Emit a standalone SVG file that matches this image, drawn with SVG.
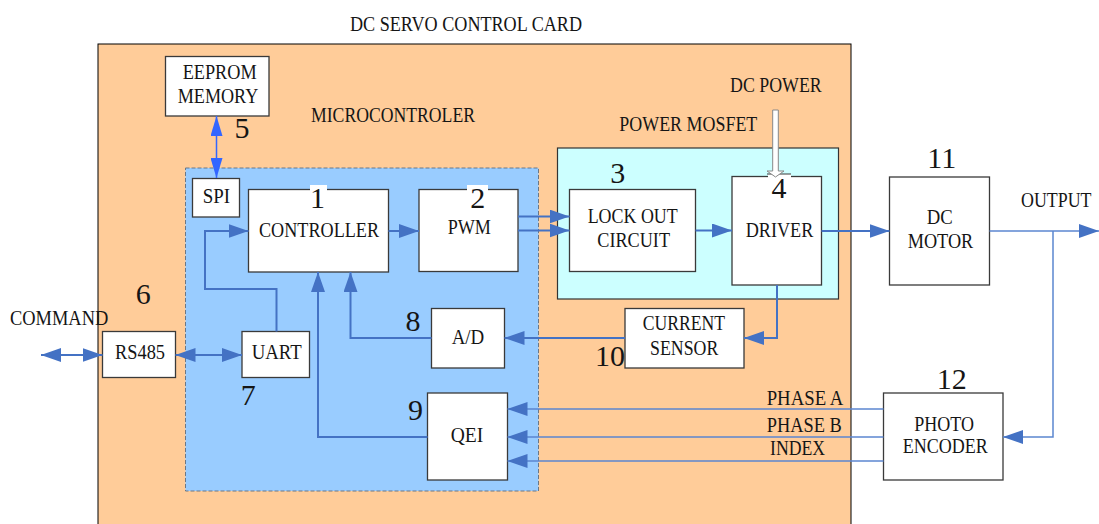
<svg xmlns="http://www.w3.org/2000/svg" width="1099" height="524" viewBox="0 0 1099 524">
<style>
text{font-family:"Liberation Serif","Times New Roman",serif;fill:#151515;}
.lb{font-size:21px;}
.num{font-size:30px;text-anchor:middle;}
.box{fill:#fff;stroke:#3a3a3a;stroke-width:1.3;}
.cn{fill:none;stroke:#4472C4;stroke-width:2;}
.thin{fill:none;stroke:#5B86D0;stroke-width:1.5;}
</style>
<defs>
<marker id="ah" markerUnits="userSpaceOnUse" markerWidth="20" markerHeight="14" viewBox="0 0 20 14" refX="20" refY="7" orient="auto-start-reverse"><path d="M0,0 L20,7 L0,14 z" fill="#4472C4"/></marker>
<marker id="ahb" markerUnits="userSpaceOnUse" markerWidth="20" markerHeight="12" viewBox="0 0 20 12" refX="20" refY="6" orient="auto-start-reverse"><path d="M0,0 L20,6 L0,12 z" fill="#3366FF"/></marker>
</defs>
<rect width="1099" height="524" fill="#fff"/>
<g id="card">
<rect x="98" y="44" width="753" height="490" fill="#FFCC99" stroke="#000" stroke-width="1"/>
<text class="lb" x="350" y="30.5" textLength="232" lengthAdjust="spacingAndGlyphs">DC SERVO CONTROL CARD</text>
</g>
<g id="microcontroller">
<rect x="185.5" y="168" width="353" height="323" fill="#99CCFF" stroke="#6B7785" stroke-width="1" stroke-dasharray="4 2"/>
<text class="lb" x="311" y="122" textLength="164" lengthAdjust="spacingAndGlyphs">MICROCONTROLER</text>
</g>
<g id="power-mosfet">
<rect x="557.5" y="148" width="281" height="151" fill="#CCFFFF" stroke="#333" stroke-width="1.2"/>
<text class="lb" x="619.3" y="130.7" textLength="138" lengthAdjust="spacingAndGlyphs">POWER MOSFET</text>
</g>
<g id="eeprom">
<rect class="box" x="165.5" y="56.5" width="103.5" height="59.5"/>
<text class="lb" x="182.7" y="79.3" textLength="74" lengthAdjust="spacingAndGlyphs">EEPROM</text>
<text class="lb" x="177.7" y="103.3" textLength="80.6" lengthAdjust="spacingAndGlyphs">MEMORY</text>
<text class="num" x="242" y="138">5</text>
</g>
<g id="spi">
<rect class="box" x="192.5" y="178.5" width="47" height="38.5"/>
<text class="lb" x="202.7" y="202.7" textLength="27.3" lengthAdjust="spacingAndGlyphs">SPI</text>
</g>
<g id="controller">
<rect class="box" x="248.5" y="189.5" width="140" height="82.5"/>
<rect x="310" y="185" width="17" height="7" fill="#fff"/>
<text class="lb" x="259" y="237.3" textLength="120" lengthAdjust="spacingAndGlyphs">CONTROLLER</text>
<text class="num" x="317.5" y="208.3">1</text>
</g>
<g id="pwm">
<rect class="box" x="419" y="189.5" width="99" height="82"/>
<rect x="467" y="185" width="21" height="7" fill="#fff"/>
<text class="lb" x="447.7" y="234" textLength="43.3" lengthAdjust="spacingAndGlyphs">PWM</text>
<text class="num" x="477.8" y="208.3">2</text>
</g>
<g id="lockout">
<rect class="box" x="569.5" y="189.5" width="126" height="82"/>
<text class="lb" x="587.7" y="223.3" textLength="90" lengthAdjust="spacingAndGlyphs">LOCK OUT</text>
<text class="lb" x="597.3" y="247.3" textLength="72.7" lengthAdjust="spacingAndGlyphs">CIRCUIT</text>
<text class="num" x="617.7" y="183.3">3</text>
</g>
<g id="driver">
<rect class="box" x="732" y="176.5" width="89.5" height="108.5"/>
<rect x="768" y="174" width="23" height="5" fill="#fff"/>
<line x1="767" y1="174" x2="791" y2="174" stroke="#3a3a3a" stroke-width="1"/>
<text class="lb" x="745.7" y="237.3" textLength="67.6" lengthAdjust="spacingAndGlyphs">DRIVER</text>
<text class="num" x="779" y="197.7">4</text>
</g>
<g id="dc-power">
<text class="lb" x="730" y="92.3" textLength="91.7" lengthAdjust="spacingAndGlyphs">DC POWER</text>
<path d="M772.7,110 L778.3,110 L778.3,171 L784,171 L775.5,177 L767,171 L772.7,171 Z" fill="#fff" stroke="#888" stroke-width="1"/>
</g>
<g id="dc-motor">
<rect class="box" x="889.5" y="177" width="100" height="108"/>
<text class="lb" x="926.7" y="224" textLength="26" lengthAdjust="spacingAndGlyphs">DC</text>
<text class="lb" x="907.7" y="247.7" textLength="65.6" lengthAdjust="spacingAndGlyphs">MOTOR</text>
<text class="num" x="941.7" y="167.7">11</text>
</g>
<g id="output">
<text transform="translate(1021,207.3) scale(1,1.17)" x="0" y="0" style="font-size:18px" textLength="70.5" lengthAdjust="spacingAndGlyphs">OUTPUT</text>
</g>
<g id="command">
<text class="lb" x="10" y="325" textLength="98.3" lengthAdjust="spacingAndGlyphs">COMMAND</text>
</g>
<g id="rs485">
<rect class="box" x="102.5" y="331.5" width="73" height="46"/>
<text class="lb" x="115" y="359.3" textLength="50" lengthAdjust="spacingAndGlyphs">RS485</text>
<text class="num" x="143.3" y="304.3">6</text>
</g>
<g id="uart">
<rect class="box" x="242" y="331.5" width="67.5" height="46"/>
<text class="lb" x="251.7" y="359.3" textLength="50" lengthAdjust="spacingAndGlyphs">UART</text>
<text class="num" x="248.3" y="405">7</text>
</g>
<g id="ad">
<rect class="box" x="431.5" y="308.5" width="73" height="59.5"/>
<text class="lb" x="451.7" y="344" textLength="32.6" lengthAdjust="spacingAndGlyphs">A/D</text>
<text class="num" x="413" y="330.7">8</text>
</g>
<g id="qei">
<rect class="box" x="427.5" y="393" width="80" height="87"/>
<text class="lb" x="450.7" y="441.7" textLength="32.6" lengthAdjust="spacingAndGlyphs">QEI</text>
<text class="num" x="415.5" y="420">9</text>
</g>
<g id="current-sensor">
<rect class="box" x="625" y="308.5" width="119" height="59.5"/>
<text class="lb" x="642.7" y="330" textLength="82.3" lengthAdjust="spacingAndGlyphs">CURRENT</text>
<text class="lb" x="650" y="355" textLength="68.3" lengthAdjust="spacingAndGlyphs">SENSOR</text>
<text class="num" x="610" y="366">10</text>
</g>
<g id="photo-encoder">
<rect class="box" x="883.5" y="393" width="119.5" height="87"/>
<text class="lb" x="914.3" y="430.7" textLength="59.7" lengthAdjust="spacingAndGlyphs">PHOTO</text>
<text class="lb" x="902.7" y="452.7" textLength="85" lengthAdjust="spacingAndGlyphs">ENCODER</text>
<text class="num" x="951.7" y="389">12</text>
</g>
<g id="connectors">
<line x1="216.5" y1="116" x2="216.5" y2="178" stroke="#3366FF" stroke-width="1.5" marker-start="url(#ahb)" marker-end="url(#ahb)"/>
<line class="cn" x1="388.5" y1="231" x2="419" y2="231" marker-end="url(#ah)"/>
<line class="cn" x1="518" y1="216.5" x2="569.5" y2="216.5" marker-end="url(#ah)"/>
<line class="cn" x1="518" y1="230.5" x2="569.5" y2="230.5" marker-end="url(#ah)"/>
<line class="cn" x1="695.5" y1="230.5" x2="732" y2="230.5" marker-end="url(#ah)"/>
<line class="cn" x1="821.5" y1="231" x2="889.5" y2="231" marker-end="url(#ah)"/>
<line class="thin" x1="989.5" y1="231" x2="1099" y2="231" marker-end="url(#ah)"/>
<polyline class="thin" points="1053,231 1053,437 1003,437" marker-end="url(#ah)"/>
<line class="thin" x1="883.5" y1="409" x2="507.5" y2="409" marker-end="url(#ah)"/>
<line class="thin" x1="883.5" y1="437" x2="507.5" y2="437" marker-end="url(#ah)"/>
<line class="thin" x1="883.5" y1="461" x2="507.5" y2="461" marker-end="url(#ah)"/>
<text class="lb" x="766.7" y="405" textLength="76.6" lengthAdjust="spacingAndGlyphs">PHASE A</text>
<text class="lb" x="766.7" y="431.7" textLength="75" lengthAdjust="spacingAndGlyphs">PHASE B</text>
<text class="lb" x="770" y="455" textLength="55" lengthAdjust="spacingAndGlyphs">INDEX</text>
<polyline class="cn" points="777,285 777,338 744,338" marker-end="url(#ah)"/>
<line class="cn" x1="625" y1="338" x2="504.5" y2="338" marker-end="url(#ah)"/>
<polyline class="cn" points="431.5,338 350.5,338 350.5,272" marker-end="url(#ah)"/>
<polyline class="cn" points="427.5,437 318,437 318,272" marker-end="url(#ah)"/>
<polyline class="cn" points="276.5,331.5 276.5,289 205,289 205,231 248.5,231" marker-end="url(#ah)"/>
<line class="cn" x1="41" y1="355" x2="102.5" y2="355" marker-start="url(#ah)" marker-end="url(#ah)"/>
<line class="cn" x1="175.5" y1="355" x2="242" y2="355" marker-start="url(#ah)" marker-end="url(#ah)"/>
</g>
</svg>
